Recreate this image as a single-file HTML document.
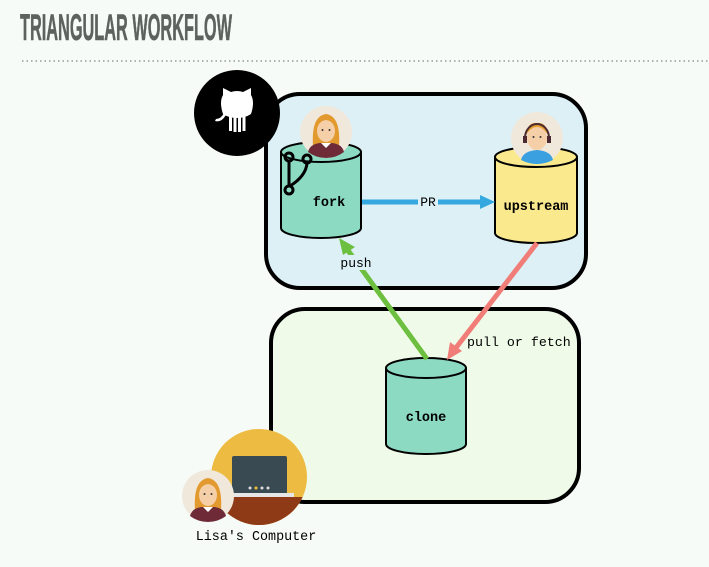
<!DOCTYPE html>
<html><head><meta charset="utf-8"><style>
html,body{margin:0;padding:0;background:#f7fbf8;}
svg{display:block}
</style></head><body>
<svg width="709" height="567" viewBox="0 0 709 567" xmlns="http://www.w3.org/2000/svg">
<defs>
<g id="lisa">
  <circle r="26" fill="#f1e8dc"/>
  <path d="M-13,14 Q-15,-16 0,-18 Q15,-16 13,14 Z" fill="#e29a2e"/>
  <ellipse cx="0" cy="-1" rx="9" ry="11" fill="#f4cfa8"/>
  <path d="M-9,-6 Q0,-18 9,-6 Q6,-14 0,-14 Q-6,-14 -9,-6Z" fill="#e29a2e"/>
  <path d="M-18,20 Q-16,12 -6,11 L6,11 Q16,12 18,20 Q10,26 0,26 Q-10,26 -18,20Z" fill="#6e2a37"/>
  <path d="M-5,11 L0,16 L5,11Z" fill="#fff"/>
  <circle cx="-3.5" cy="-2" r="1" fill="#333"/><circle cx="3.5" cy="-2" r="1" fill="#333"/>
</g>
</defs>
<text x="20" y="40" font-family="'Liberation Sans Narrow','Liberation Sans',sans-serif" font-weight="bold" font-size="37" fill="#5d625e" stroke="#5d625e" stroke-width="0.6" textLength="212" lengthAdjust="spacingAndGlyphs">TRIANGULAR WORKFLOW</text>
<line x1="22" y1="61" x2="709" y2="61" stroke="#999" stroke-width="1.5" stroke-dasharray="1.5 3"/>

<rect x="266" y="94" width="320" height="194" rx="34" fill="#dcf0f6" stroke="#000" stroke-width="4"/>
<rect x="271" y="309" width="308" height="193" rx="34" fill="#effbe8" stroke="#000" stroke-width="4"/>

<circle cx="237" cy="113" r="43" fill="#000"/>
<g fill="#fff">
  <path d="M223,114 Q219,102 223,95 L223,88 L231,92 Q237,90 243,92 L251,88 L251,95 Q255,102 251,114 Q245,118 237,118 Q229,118 223,114Z"/>
  <rect x="229" y="116" width="3" height="15"/><rect x="233.5" y="116" width="3" height="16"/><rect x="238" y="116" width="3" height="16"/><rect x="242.5" y="116" width="3" height="15"/>
  <path d="M226,115 Q221,123 215,121 L216,119 Q221,119 224,113Z"/>
</g>

<path d="M281,152 L281,228 A40,10 0 0 0 361,228 L361,152" fill="#8ddac3" stroke="#000" stroke-width="2"/>
<ellipse cx="321" cy="152" rx="40" ry="10" fill="#8ddac3" stroke="#000" stroke-width="2"/>
<use href="#lisa" x="326" y="132"/>
<g fill="none" stroke="#000" stroke-width="3">
  <circle cx="289" cy="157" r="4"/><circle cx="307" cy="159" r="4"/><circle cx="289" cy="190" r="4"/>
  <line x1="289" y1="161" x2="289" y2="186"/><path d="M307,163 Q306,176 290,186"/>
</g>
<text x="329" y="206" font-family="'Liberation Mono',monospace" font-weight="bold" font-size="13.5" text-anchor="middle">fork</text>

<path d="M495,157 L495,233 A41,10 0 0 0 577,233 L577,157" fill="#fbe98e" stroke="#000" stroke-width="2"/>
<ellipse cx="536" cy="157" rx="41" ry="10" fill="#fbe98e" stroke="#000" stroke-width="2"/>
<g transform="translate(537,138)">
  <circle r="26" fill="#f1e8dc"/>
  <path d="M-16,22 Q-14,13 0,12 Q14,13 16,22 Q8,26 0,26 Q-8,26 -16,22Z" fill="#3aa0df"/>
  <ellipse cx="0" cy="0" rx="10" ry="12" fill="#f4cfa8"/>
  <path d="M-11,-3 Q-10,-16 0,-15 Q10,-16 11,-3 Q6,-11 0,-11 Q-6,-11 -11,-3Z" fill="#e8a030"/>
  <path d="M-12,0 A12,14 0 0 1 12,0" fill="none" stroke="#4a2a30" stroke-width="2"/>
  <rect x="-14" y="-2" width="4" height="7" fill="#4a2a30"/><rect x="10" y="-2" width="4" height="7" fill="#4a2a30"/>
  <circle cx="-3.5" cy="-1" r="1" fill="#333"/><circle cx="3.5" cy="-1" r="1" fill="#333"/>
</g>
<text x="536" y="210" font-family="'Liberation Mono',monospace" font-weight="bold" font-size="13.5" text-anchor="middle">upstream</text>

<line x1="362" y1="202" x2="482" y2="202" stroke="#35a9df" stroke-width="5"/>
<path d="M495,202 L480,195 L480,209Z" fill="#35a9df"/>
<rect x="418" y="195" width="20" height="14" fill="#dcf0f6"/>
<text x="428" y="206" font-family="'Liberation Mono',monospace" font-size="13" text-anchor="middle">PR</text>

<path d="M386,368 L386,444 A40,10 0 0 0 466,444 L466,368" fill="#8ddac3" stroke="#000" stroke-width="2"/>
<ellipse cx="426" cy="368" rx="40" ry="10" fill="#8ddac3" stroke="#000" stroke-width="2"/>
<text x="426" y="421" font-family="'Liberation Mono',monospace" font-weight="bold" font-size="13.5" text-anchor="middle">clone</text>

<line x1="427" y1="359" x2="347" y2="249" stroke="#6cbf3f" stroke-width="5"/>
<path d="M339,238 L355,247 L343,255Z" fill="#6cbf3f"/>
<rect x="337" y="255" width="38" height="15" fill="#dcf0f6"/>
<text x="356" y="267" font-family="'Liberation Mono',monospace" font-size="13" text-anchor="middle">push</text>

<line x1="537" y1="243" x2="455" y2="349" stroke="#f07d78" stroke-width="5"/>
<path d="M447,360 L450,342 L462,351Z" fill="#f07d78"/>
<text x="467" y="346" font-family="'Liberation Mono',monospace" font-size="13.3">pull or fetch</text>

<circle cx="259" cy="477" r="48" fill="#edbb41"/>
<clipPath id="cc"><circle cx="259" cy="477" r="48"/></clipPath>
<g clip-path="url(#cc)">
  <rect x="200" y="497" width="120" height="40" fill="#8e3a16"/>
  <rect x="232" y="456" width="55" height="38" rx="2" fill="#394a52"/>
  <rect x="226" y="493" width="68" height="4" fill="#e6e6e6"/>
  <circle cx="250" cy="488" r="1.5" fill="#ddd"/><circle cx="256" cy="488" r="1.5" fill="#f0c030"/><circle cx="262" cy="488" r="1.5" fill="#ddd"/><circle cx="268" cy="488" r="1.5" fill="#ddd"/>
</g>
<use href="#lisa" x="208" y="496"/>
<text x="256" y="540" font-family="'Liberation Mono',monospace" font-size="13.4" text-anchor="middle">Lisa's Computer</text>
</svg>
</body></html>
